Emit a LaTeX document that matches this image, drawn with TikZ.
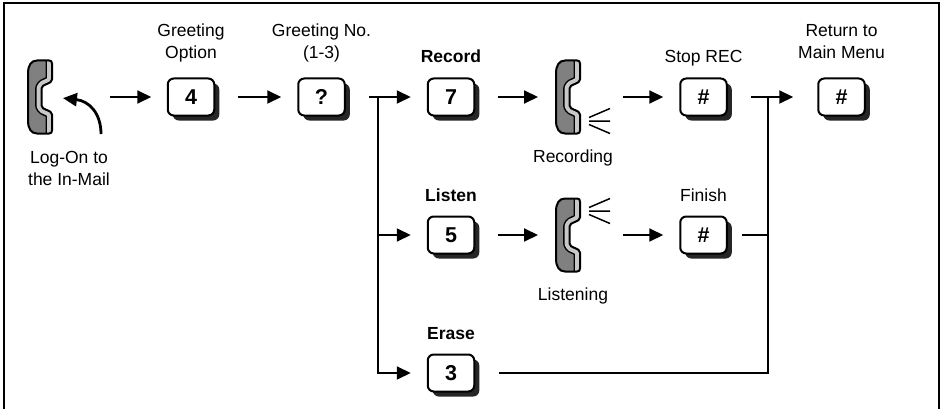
\documentclass[tikz,border=0pt]{standalone}
\usepackage{fontspec}
\setmainfont{Liberation Sans}
\usetikzlibrary{arrows.meta,positioning,shadows}
\definecolor{hsdark}{HTML}{808080}
\definecolor{hslight}{HTML}{C8C8C8}
\tikzset{keybox/.style={draw,line width=2pt,rounded corners=6pt,fill=white,
        minimum width=46.5pt,minimum height=37pt,inner sep=0,outer sep=0,
        font=\fontsize{21.5}{21.5}\selectfont\bfseries,
        drop shadow={shadow xshift=5pt,shadow yshift=-5pt,fill=black!85,opacity=1}},
    lbl/.style={inner sep=0,text depth=4pt,align=center,
        font=\fontsize{17.5}{21.5}\selectfont,label distance=10.5pt},
    boldlbl/.style={lbl,font=\fontsize{17.5}{21.5}\selectfont\bfseries},
    twolbl/.style={lbl,label distance=15pt},
    link/.style={->,shorten <=24pt,shorten >=17pt},
    handset/.pic={
        \node[inner sep=0,minimum width=24pt,minimum height=73pt] (-body) at (0,0) {};
        \begin{scope}[shift={(-12,-36.5)},line join=round]
            \fill[hsdark] (9,0) -- (21,0) .. controls (23,0) and (24,1) .. (24,3) -- (24,19)
                .. controls (24,24) and (13.5,23) .. (13.5,28) -- (13.5,45)
                .. controls (13.5,50) and (24,49) .. (24,54) -- (24,70)
                .. controls (24,72) and (23,73) .. (21,73) -- (9,73)
                .. controls (3,73) and (0,68) .. (0,60) -- (0,13)
                .. controls (0,5) and (3,0) .. (9,0) -- cycle;
            \begin{scope}
                \clip (9,0) -- (21,0) .. controls (23,0) and (24,1) .. (24,3) -- (24,19)
                    .. controls (24,24) and (13.5,23) .. (13.5,28) -- (13.5,45)
                    .. controls (13.5,50) and (24,49) .. (24,54) -- (24,70)
                    .. controls (24,72) and (23,73) .. (21,73) -- (9,73)
                    .. controls (3,73) and (0,68) .. (0,60) -- (0,13)
                    .. controls (0,5) and (3,0) .. (9,0) -- cycle;
                \foreach \w/\col in {13/black,10/hslight}
                    \draw[line width=\w pt,\col] (24,-6) -- (24,19)
                        .. controls (24,24) and (13.5,23) .. (13.5,28) -- (13.5,45)
                        .. controls (13.5,50) and (24,49) .. (24,54) -- (24,79);
            \end{scope}
            \draw[line width=2pt] (9,0) -- (21,0) .. controls (23,0) and (24,1) .. (24,3) -- (24,19)
                .. controls (24,24) and (13.5,23) .. (13.5,28) -- (13.5,45)
                .. controls (13.5,50) and (24,49) .. (24,54) -- (24,70)
                .. controls (24,72) and (23,73) .. (21,73) -- (9,73)
                .. controls (3,73) and (0,68) .. (0,60) -- (0,13)
                .. controls (0,5) and (3,0) .. (9,0) -- cycle;
        \end{scope}
    },
    waves/.pic={\draw[line width=1.5pt] (0,-3.5) -- (21,-12.5) (0,0) -- (21,0) (0,3.5) -- (21,12.5);}}
\begin{document}
\begin{tikzpicture}[x=1pt,y=-1pt,line width=2pt,>={Triangle[length=14pt,width=13pt]}]
\useasboundingbox (0,0) rectangle (941,409);
\draw (4,415) -- (4,3) -- (939,3) -- (939,415);

% handsets
\pic (ph0) at (40,97) {handset};
\pic (rec) at (568,97) {handset};
\pic (lis) at (568,235) {handset};
\pic at (589,121) {waves};
\pic at (589,211) {waves};

% keys
\node (k4) [keybox,label={[twolbl]above:Greeting\\Option}] at (191,97) {4};
\node (kq) [keybox,label={[twolbl]above:Greeting No.\\(1-3)}] at (321.5,97) {?};
\node (k7) [keybox,label={[boldlbl]above:Record}] at (451,97) {7};
\node (kstop) [keybox,label={[lbl]above:Stop REC}] at (703.5,97) {\#};
\node (kmenu) [keybox,label={[twolbl]above:Return to\\Main Menu}] at (841.5,97) {\#};
\node (k5) [keybox,label={[boldlbl]above:Listen}] at (451,235) {5};
\node (kfin) [keybox,label={[lbl]above:Finish}] at (703.5,235) {\#};
\node (k3) [keybox,label={[boldlbl]above:Erase}] at (451,373) {3};

\node (t-log) [lbl,below=16pt of ph0-body,xshift=29pt] {Log-On to\\the In-Mail};
\node (t-rec) [lbl,below=14pt of rec-body,xshift=5pt] {Recording};
\node (t-lis) [lbl,below=14pt of lis-body,xshift=5pt] {Listening};

\coordinate (lg) at (101,134);
\coordinate (split) at (378,97);
\coordinate (merge) at (768,97);

\draw [->,line width=2.8pt,shorten >=10pt] (lg) .. controls (101,113) and (89,101) .. (ph0-body.east);
\draw [->,shorten <=57pt,shorten >=16.5pt] (ph0-body.east) -- (k4.west);
\draw [link] (k4) -- (kq);
\draw [link] (kq) -- (k7);
\draw [->,shorten >=17pt] (split) |- (k5.west);
\draw [->,shorten >=17pt] (split) |- (k3.west);
\draw [link] (k7) -- (rec-body);
\draw [link,shorten <=42pt] (rec-body) -- (kstop);
\draw [link,shorten >=25pt] (kstop) -- (kmenu);
\draw [link] (k5) -- (lis-body);
\draw [link,shorten <=42pt] (lis-body) -- (kfin);
\draw [shorten <=15pt] (kfin.east) -| (merge);
\draw [shorten <=25pt] (k3.east) -| (merge);

\end{tikzpicture}
\end{document}
